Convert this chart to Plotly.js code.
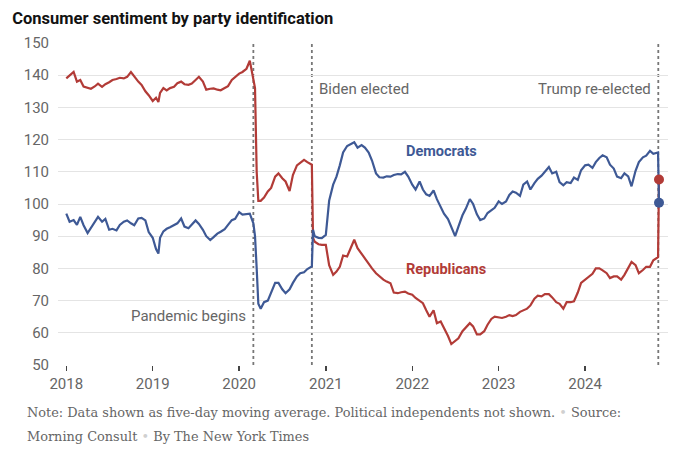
<!DOCTYPE html>
<html>
<head>
<meta charset="utf-8">
<script src="https://cdn.plot.ly/plotly-3.0.1.min.js"></script>
<style>
  html, body { margin: 0; padding: 0; background: #fff; }
  #chart { width: 680px; height: 459px; }
</style>
</head>
<body>
<div id="chart"></div>
<script>
const dates = [
  "2018-01-01","2018-01-15","2018-02-01","2018-02-15","2018-03-01","2018-03-15","2018-04-01","2018-04-15","2018-05-01","2018-05-15","2018-06-01","2018-06-15","2018-07-01","2018-07-15","2018-08-01","2018-08-15","2018-09-01","2018-09-15","2018-10-01","2018-10-15","2018-11-01","2018-11-15","2018-12-01","2018-12-15",
  "2019-01-01","2019-01-15","2019-01-25","2019-02-01","2019-02-15","2019-03-01","2019-03-15","2019-04-01","2019-04-15","2019-05-01","2019-05-15","2019-06-01","2019-06-15","2019-07-01","2019-07-15","2019-08-01","2019-08-15","2019-09-01","2019-09-15","2019-10-01","2019-10-15","2019-11-01","2019-11-15","2019-12-01","2019-12-15",
  "2020-01-01","2020-01-15","2020-02-01","2020-02-15","2020-03-01","2020-03-08","2020-03-15","2020-03-22","2020-04-01","2020-04-15","2020-05-01","2020-05-15","2020-06-01","2020-06-15","2020-07-01","2020-07-15","2020-08-01","2020-08-15","2020-09-01","2020-09-15","2020-10-01","2020-10-15","2020-11-03","2020-11-08","2020-11-15","2020-12-01","2020-12-15",
  "2021-01-01","2021-01-08","2021-01-15","2021-02-01","2021-02-15","2021-03-01","2021-03-15","2021-04-01","2021-04-15","2021-05-01","2021-05-15","2021-06-01","2021-06-15","2021-07-01","2021-07-15","2021-08-01","2021-08-15","2021-09-01","2021-09-15","2021-10-01","2021-10-15","2021-11-01","2021-11-15","2021-12-01","2021-12-15",
  "2022-01-01","2022-01-15","2022-02-01","2022-02-15","2022-03-01","2022-03-15","2022-04-01","2022-04-15","2022-05-01","2022-05-15","2022-06-01","2022-06-15","2022-07-01","2022-07-15","2022-08-01","2022-08-15","2022-09-01","2022-09-15","2022-10-01","2022-10-15","2022-11-01","2022-11-15","2022-12-01","2022-12-15",
  "2023-01-01","2023-01-15","2023-02-01","2023-02-15","2023-03-01","2023-03-15","2023-04-01","2023-04-15","2023-05-01","2023-05-15","2023-06-01","2023-06-15","2023-07-01","2023-07-15","2023-08-01","2023-08-15","2023-09-01","2023-09-15","2023-10-01","2023-10-15","2023-11-01","2023-11-15","2023-12-01","2023-12-15",
  "2024-01-01","2024-01-15","2024-02-01","2024-02-15","2024-03-01","2024-03-15","2024-04-01","2024-04-15","2024-05-01","2024-05-15","2024-06-01","2024-06-15","2024-07-01","2024-07-15","2024-08-01","2024-08-15","2024-09-01","2024-09-15","2024-10-01","2024-10-15","2024-11-04","2024-11-08"
];

const democrats = [
  97, 94.5, 95, 93.5, 96, 93.4, 91, 92.5, 94.5, 96, 94.5, 95.4, 92, 92.3, 91.8, 93.5, 94.5, 94.9, 94, 93.4, 95.5, 95.7, 94.9, 91.3,
  89.5, 86, 84.6, 89.5, 91.5, 92.3, 92.8, 93.4, 94, 95.5, 93, 92.5, 93.5, 94.9, 93.8, 92, 90, 88.8, 89.7, 90.8, 91.4, 92.2, 93.5, 95, 95.4,
  97.5, 96.7, 96.8, 97, 94, 90, 80, 69, 67.5, 69.5, 70, 72.5, 75.5, 75.5, 73.5, 72.3, 73.5, 75.5, 77.5, 78.5, 78.8, 79.8, 80.6, 92, 90, 89.5, 89.4,
  90.4, 95, 101, 106, 108.5, 112, 116, 118, 118.5, 119.2, 117.5, 118.3, 117.5, 116, 113.5, 109.5, 108.3, 108.2, 108.6, 108.5, 109, 109.3, 109.2, 110, 108.5,
  106, 104.5, 107, 104.5, 103, 102.5, 104.2, 101.5, 99, 97, 95.3, 93, 90, 93, 96.5, 98.5, 101.5, 100, 96.8, 95, 95.5, 97.2, 98, 98.8,
  100.8, 100, 100.8, 102.8, 103.9, 103.5, 102.5, 106, 107, 104.5, 106.5, 107.8, 108.8, 110, 111.5, 109.5, 110, 106.8, 105.8, 106.8, 106.5, 108.2, 107.5, 110.5,
  112, 112.2, 111.2, 113, 114.3, 115.1, 114.5, 112.2, 111, 108.5, 108, 109.5, 108.6, 105.5, 110.3, 113, 114.5, 115, 116.5, 115.6, 116, 100.4
];

const republicans = [
  139, 140, 141, 138, 138.5, 136.5, 136, 135.8, 136.5, 137.4, 136.4, 137.2, 137.8, 138.5, 138.8, 139.2, 139, 139.5, 141, 139.5, 138, 137, 135, 133.8,
  132, 133, 131.7, 134.5, 136, 135.3, 136, 136.4, 137.5, 138, 137.2, 137, 137.4, 138.5, 139.5, 138, 135.5, 135.8, 135.9, 135.5, 135.3, 136, 136.6, 138.5, 139.5,
  140.5, 141, 142, 144.5, 139, 136, 110, 101, 101, 102, 103.9, 105, 108.5, 109.5, 108, 107, 104, 109, 112, 112.8, 113.7, 113, 112.2, 89.5, 88.3, 87.5, 87.3,
  87.3, 84, 81, 78, 79, 80.5, 84, 83.7, 86, 88.9, 86.3, 84.5, 83, 81.5, 80, 78.5, 77.5, 76.5, 75.9, 75.4, 72.5, 72.3, 72.6, 72.8, 72.2,
  71.8, 70.8, 69.8, 69.2, 67, 65, 67, 63, 63.5, 61.5, 59, 56.5, 57.5, 58.3, 60.5, 61.5, 63, 62, 59.5, 59.5, 60.5, 62.5, 64.3, 65,
  64.8, 64.6, 65, 65.5, 65.2, 65.5, 66.5, 67, 67.5, 68.5, 70.6, 71.5, 71.3, 72, 72, 71, 69.5, 69, 67.5, 69.5, 69.5, 69.8, 72.5, 75.5,
  76.6, 77.3, 78.3, 80, 80, 79.4, 78.5, 77, 77.5, 77.5, 76.5, 78, 80, 82, 81, 78.5, 79.5, 80.5, 80.5, 82.5, 83.5, 107.6
];

const eventDates = ["2020-03-01", "2020-11-03", "2024-11-05"];
const eventLabels = ["Pandemic begins", "Biden elected", "Trump re-elected"];

const yearTicks = ["2018-01-01","2019-01-01","2020-01-01","2021-01-01","2022-01-01","2023-01-01","2024-01-01"];
const yearLabels = ["2018","2019","2020","2021","2022","2023","2024"];
const yTicks = [50, 60, 70, 80, 90, 100, 110, 120, 130, 140, 150];

const blue = "#3e5995";
const red = "#b23b37";
const last = dates.length - 1;

const traces = [
  {x: dates, y: republicans, mode: "lines", line: {color: red, width: 2.2}, hoverinfo: "skip"},
  {x: dates, y: democrats, mode: "lines", line: {color: blue, width: 2.2}, hoverinfo: "skip"},
  {x: [dates[last]], y: [republicans[last]], mode: "markers", marker: {color: red, size: 10}, hoverinfo: "skip"},
  {x: [dates[last]], y: [democrats[last]], mode: "markers", marker: {color: blue, size: 10}, hoverinfo: "skip"}
];

// dashed event lines
const shapes = eventDates.map(d => ({
  type: "line", xref: "x", yref: "paper", x0: d, x1: d, y0: 0, y1: 1,
  layer: "between",
  line: {color: "#777", width: 1.8, dash: "3px,3px"}
}));

const grey = "#666";
const dot = ' <span style="color:#d0d0d0">\u2022</span> ';
const noteFont = {family: "DejaVu Serif, serif", size: 12.9, color: grey};
const annotations = [
  {x: eventDates[0], y: 65.2, text: eventLabels[0], xanchor: "right", xshift: -5, showarrow: false, font: {size: 15, color: grey}},
  {x: eventDates[1], y: 135.8, text: eventLabels[1], xanchor: "left", xshift: 5, showarrow: false, font: {size: 15, color: grey}},
  {x: eventDates[2], y: 135.8, text: eventLabels[2], xanchor: "right", xshift: -5, showarrow: false, font: {size: 15, color: grey}},
  {x: "2021-11-26", y: 116.2, text: "<b>Democrats</b>", xanchor: "left", showarrow: false, font: {size: 14.5, color: blue}},
  {x: "2021-11-26", y: 79.8, text: "<b>Republicans</b>", xanchor: "left", showarrow: false, font: {size: 14.5, color: red}},
  {xref: "paper", yref: "paper", x: -0.054, y: -0.149, xanchor: "left", yanchor: "middle", showarrow: false,
   text: "Note: Data shown as five-day moving average. Political independents not shown." + dot + "Source:",
   font: noteFont},
  {xref: "paper", yref: "paper", x: -0.054, y: -0.2236, xanchor: "left", yanchor: "middle", showarrow: false,
   text: "Morning Consult" + dot + "By The New York Times",
   font: noteFont}
];

const layout = {
  width: 680, height: 459,
  margin: {l: 58, r: 12, t: 43, b: 94},
  paper_bgcolor: "#fff", plot_bgcolor: "#fff",
  font: {family: "Roboto, Liberation Sans, sans-serif", size: 15, color: grey},
  showlegend: false,
  title: {
    text: "<b>Consumer sentiment by party identification</b>",
    xref: "container", yref: "container", x: 0.018, y: 0.961, xanchor: "left", yanchor: "middle",
    font: {size: 16.5, color: "#121212"}
  },
  xaxis: {
    type: "date", range: ["2017-11-27", "2024-12-16"],
    tickvals: yearTicks, ticktext: yearLabels,
    ticks: "outside", ticklen: 5, tickwidth: 1.5, tickcolor: "#444",
    showgrid: false, zeroline: false, showline: false,
    tickfont: {size: 15, color: grey}
  },
  yaxis: {
    range: [50, 150], tickvals: yTicks,
    showgrid: true, gridcolor: "#e4e4e4", gridwidth: 1,
    zeroline: false, showline: false, ticks: "",
    ticklabelstandoff: 8,
    tickfont: {size: 15, color: grey}
  },
  shapes: shapes,
  annotations: annotations
};

Plotly.newPlot("chart", traces, layout, {staticPlot: true, displayModeBar: false});
</script>
</body>
</html>
